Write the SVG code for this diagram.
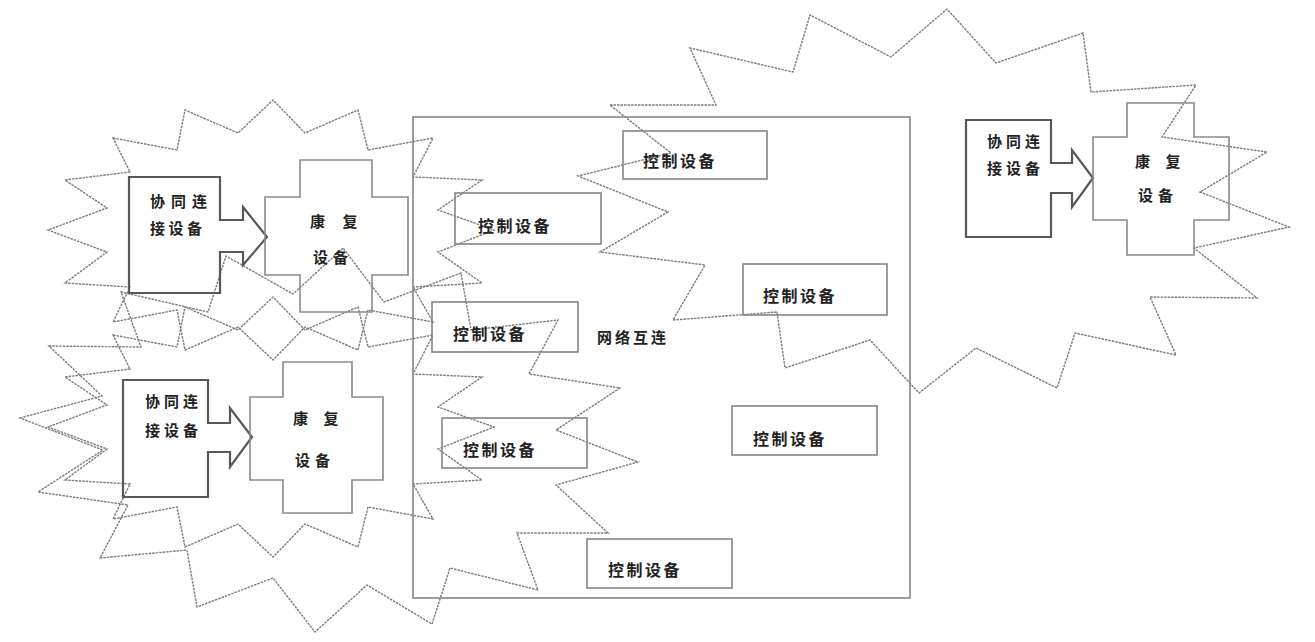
<svg xmlns="http://www.w3.org/2000/svg" width="1315" height="642" viewBox="0 0 1315 642">
<style>
.burst{fill:none;stroke:#7c7c7c;stroke-width:1.4;stroke-dasharray:2.5 1;stroke-linejoin:miter}
.frame{fill:none;stroke:#858585;stroke-width:1.6}
.box{fill:none;stroke:#858585;stroke-width:1.6}
.callout{fill:none;stroke:#585858;stroke-width:2.2}
.cross{fill:none;stroke:#8a8a8a;stroke-width:1.6}
.t{font-family:"Noto Sans CJK SC","Noto Sans CJK JP",sans-serif;font-size:16px;font-weight:bold;fill:#222;letter-spacing:2.5px}
.g{font-family:"Noto Sans CJK SC","Noto Sans CJK JP",sans-serif;font-size:15px;font-weight:bold;fill:#222}
</style>
<rect width="1315" height="642" fill="#fff"/>
<g id="bursts">
<polygon id="burst-top-left" class="burst" points="113,138 177,150 185,110 238,133 273,100 305,133 358,110 368,150 433,138 413,177 482,180 438,210 494,230 438,252 482,283 413,287 433,322 368,310 358,350 305,327 273,360 238,327 185,350 177,310 113,322 130,287 65,283 107,252 48,230 107,208 65,180 130,172"/>
<polygon id="burst-bottom-left" class="burst" points="113,335 177,347 185,307 238,330 273,297 305,330 358,307 368,347 433,335 413,374 482,377 438,407 494,427 438,449 482,480 413,484 433,519 368,507 358,547 305,524 273,557 238,524 185,547 177,507 113,519 130,484 65,480 107,449 48,427 107,405 65,377 130,369"/>
<polygon id="burst-middle" class="burst" points="20,418 102,396 49,346 141,347 121,292 208,312 226,256 293,294 343,248 384,302 461,273 471,330 558,320 529,374 620,388 556,430 638,462 556,485 608,533 517,533 538,590 450,568 432,624 367,585 315,632 273,578 197,607 187,550 100,558 128,505 38,492 103,450"/>
<polygon id="burst-right" class="burst" points="610,105 716,105 690,48 793,72 810,15 891,57 947,9 996,63 1083,33 1091,92 1196,85 1162,137 1267,152 1200,192 1289,227 1194,248 1257,298 1150,297 1176,355 1075,333 1057,388 976,348 919,393 870,340 785,368 777,312 673,320 705,265 600,252 668,212 578,176 671,153"/>
</g>
<g id="network">
<rect class="frame" x="413" y="117" width="497" height="481"/>
<text class="g" x="597" y="343" letter-spacing="3">网络互连</text>
</g>
<g id="ctrl1"><rect class="box" x="623" y="131" width="144" height="48"/><text class="t" x="643" y="167">控制设备</text></g>
<g id="ctrl2"><rect class="box" x="455" y="193" width="146" height="51"/><text class="t" x="478" y="232">控制设备</text></g>
<g id="ctrl3"><rect class="box" x="743" y="264" width="144" height="51"/><text class="t" x="763" y="302">控制设备</text></g>
<g id="ctrl4"><rect class="box" x="432" y="302" width="146" height="50"/><text class="t" x="453" y="340">控制设备</text></g>
<g id="ctrl5"><rect class="box" x="442" y="418" width="145" height="50"/><text class="t" x="463" y="456">控制设备</text></g>
<g id="ctrl6"><rect class="box" x="732" y="406" width="145" height="49"/><text class="t" x="753" y="445">控制设备</text></g>
<g id="ctrl7"><rect class="box" x="587" y="539" width="145" height="49"/><text class="t" x="608" y="576">控制设备</text></g>
<g id="connector1">
<path class="callout" d="M129,177 H220 V220 H243 V207 L267,237 L243,265 V252 H220 V293 H129 Z"/>
<text class="g" x="150" y="207" letter-spacing="6">协同连</text>
<text class="g" x="150" y="234" letter-spacing="3.5">接设备</text>
</g>
<g id="rehab1">
<path class="cross" d="M300,160 H372 V197 H408 V275 H372 V312 H300 V275 H265 V197 H300 Z"/>
<text class="g" x="310" y="227" letter-spacing="7">康 复</text>
<text class="g" x="313" y="263" letter-spacing="5">设备</text>
</g>
<g id="connector2">
<path class="callout" d="M123,380 H208 V423 H230 V408 L252,437 L230,467 V452 H208 V497 H123 Z"/>
<text class="g" x="145" y="407" letter-spacing="4">协同连</text>
<text class="g" x="145" y="436" letter-spacing="4">接设备</text>
</g>
<g id="rehab2">
<path class="cross" d="M283,362 H352 V397 H383 V480 H352 V513 H283 V480 H250 V397 H283 Z"/>
<text class="g" x="293" y="424" letter-spacing="6">康 复</text>
<text class="g" x="295" y="466" letter-spacing="5">设备</text>
</g>
<g id="connector3">
<path class="callout" d="M966,120 H1051 V163 H1072 V150 L1093,178 L1072,207 V193 H1051 V237 H966 Z"/>
<text class="g" x="987" y="147" letter-spacing="4">协同连</text>
<text class="g" x="987" y="174" letter-spacing="4">接设备</text>
</g>
<g id="rehab3">
<path class="cross" d="M1127,103 H1194 V137 H1229 V220 H1194 V255 H1127 V220 H1093 V137 H1127 Z"/>
<text class="g" x="1135" y="167" letter-spacing="6">康 复</text>
<text class="g" x="1138" y="201" letter-spacing="5">设备</text>
</g>
</svg>
